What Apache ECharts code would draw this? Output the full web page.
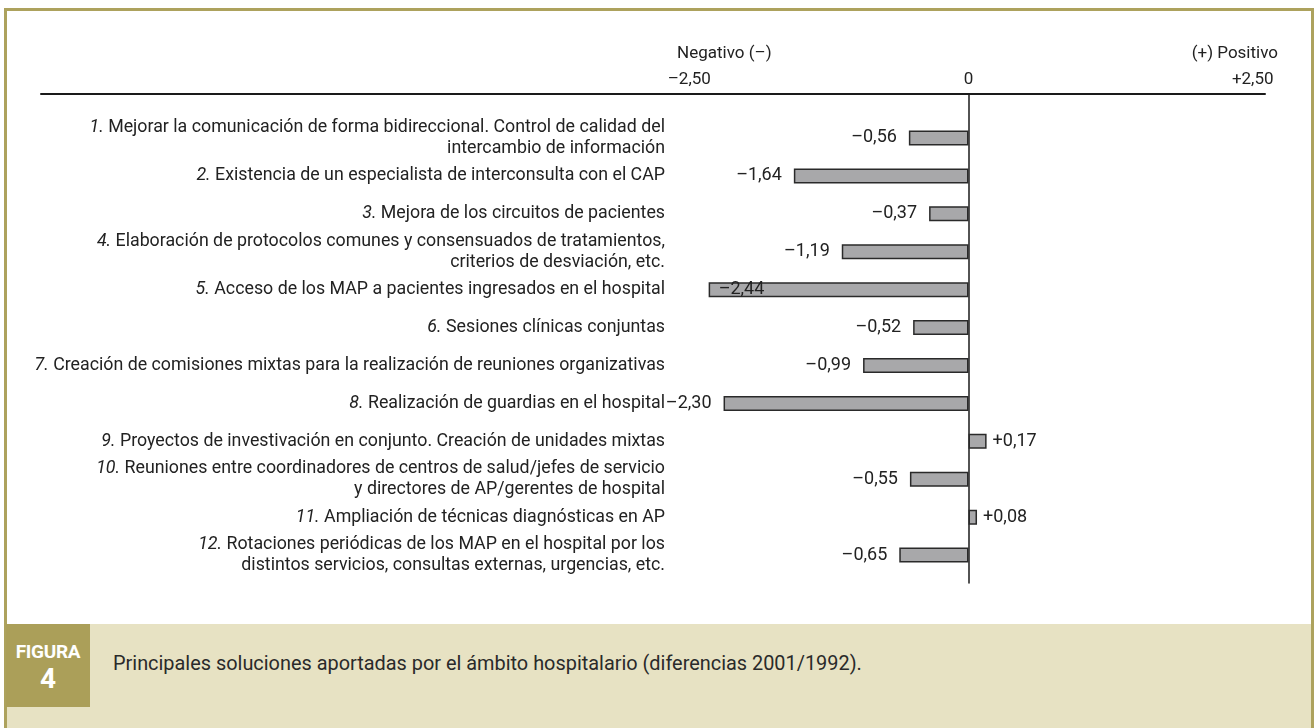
<!DOCTYPE html>
<html>
<head>
<meta charset="utf-8">
<script src="https://cdn.jsdelivr.net/npm/echarts@6/dist/echarts.min.js"></script>
<style>
  html, body { margin: 0; padding: 0; background: #ffffff; }
  #wrap { position: relative; width: 1314px; height: 728px; overflow: hidden; background: #ffffff; }
  .frame-top { position: absolute; left: 4px; top: 8px; width: 1310px; height: 3px; background: #ada25d; }
  .frame-left { position: absolute; left: 4px; top: 8px; width: 3px; height: 720px; background: #ada25d; }
  .frame-right { position: absolute; left: 1311px; top: 8px; width: 3px; height: 720px; background: #ada25d; }
  .band { position: absolute; left: 7px; top: 624px; width: 1304px; height: 104px; background: #e7e2c3; }
  .figbox { position: absolute; left: 6px; top: 624px; width: 84px; height: 83px; background: #ab9f59; color: #ffffff;
            font-family: "Roboto", sans-serif; font-weight: bold; text-align: center; }
  .figbox .t1 { position: absolute; left: 0; width: 84px; top: 17px; font-size: 19px; line-height: 22px; letter-spacing: -0.3px; }
  .figbox .t2 { position: absolute; left: 0; width: 84px; top: 40px; font-size: 28px; line-height: 30px; }
  .caption { position: absolute; left: 113px; top: 652px; font-family: "Roboto", sans-serif;
             font-size: 19.9px; line-height: 24px; color: #2a2a2a; white-space: nowrap; }
  #chart { position: absolute; left: 0; top: 0; width: 1314px; height: 728px; }
</style>
</head>
<body>
<div id="wrap">
  <div class="band"></div>
  <div class="frame-top"></div>
  <div class="frame-left"></div>
  <div class="frame-right"></div>
  <div class="figbox"><div class="t1">FIGURA</div><div class="t2">4</div></div>
  <div class="caption">Principales soluciones aportadas por el ámbito hospitalario (diferencias 2001/1992).</div>
  <div id="chart"></div>
</div>
<script>
// ---- data ----
const itemNumbers = ['1.', '2.', '3.', '4.', '5.', '6.', '7.', '8.', '9.', '10.', '11.', '12.'];
const itemTexts = [
  'Mejorar la comunicación de forma bidireccional. Control de calidad del\nintercambio de información',
  'Existencia de un especialista de interconsulta con el CAP',
  'Mejora de los circuitos de pacientes',
  'Elaboración de protocolos comunes y consensuados de tratamientos,\ncriterios de desviación, etc.',
  'Acceso de los MAP a pacientes ingresados en el hospital',
  'Sesiones clínicas conjuntas',
  'Creación de comisiones mixtas para la realización de reuniones organizativas',
  'Realización de guardias en el hospital',
  'Proyectos de investivación en conjunto. Creación de unidades mixtas',
  'Reuniones entre coordinadores de centros de salud/jefes de servicio\ny directores de AP/gerentes de hospital',
  'Ampliación de técnicas diagnósticas en AP',
  'Rotaciones periódicas de los MAP en el hospital por los\ndistintos servicios, consultas externas, urgencias, etc.'
];
const differences = [-0.56, -1.64, -0.37, -1.19, -2.44, -0.52, -0.99, -2.30, 0.17, -0.55, 0.08, -0.65];
const tickValues = [-2.5, 0, 2.5];
const tickLabels = ['–2,50', '0', '+2,50'];
const sideLabels = ['Negativo (–)', '(+) Positivo'];

// ---- layout helpers (pixels) ----
const FONT = '"Roboto", sans-serif';
const FS = 17.8;
const ZERO_X = 968.5, PX_PER_UNIT = 106.5;
const LINE_LEFT = 41, RIGHT_EDGE = 1265, BAR_GRID_LEFT = 700;
const X_MAX = (RIGHT_EDGE - ZERO_X) / PX_PER_UNIT;
const X_MIN_LINE = -(ZERO_X - LINE_LEFT) / PX_PER_UNIT;
const X_MIN_BARS = -(ZERO_X - BAR_GRID_LEFT) / PX_PER_UNIT;

const categories = itemTexts.map((t, i) => String(i));

function fmtValue(v) {
  const s = Math.abs(v).toFixed(2).replace('.', ',');
  return (v > 0 ? '+' : '–') + s;
}

const seriesData = differences.map((v) => {
  const d = { value: v };
  if (v > 0) d.label = { position: 'right', distance: 6 };
  else if (v <= -2.4) d.label = { position: 'insideLeft', distance: 10 };
  return d;
});

const chart = echarts.init(document.getElementById('chart'), null, { renderer: 'canvas' });
chart.setOption({
  backgroundColor: 'transparent',
  animation: false,
  textStyle: { fontFamily: FONT },
  title: [
    { text: sideLabels[0], left: 677, top: 45, padding: 0, textStyle: { fontFamily: FONT, fontSize: 17, fontWeight: 'normal', color: '#222' } },
    { text: sideLabels[1], right: 36, top: 45, padding: 0, textStyle: { fontFamily: FONT, fontSize: 17, fontWeight: 'normal', color: '#222' } }
  ],
  grid: [
    { left: BAR_GRID_LEFT, right: 1314 - RIGHT_EDGE, top: 119, bottom: 154, containLabel: false, outerBoundsMode: 'none' },
    { left: LINE_LEFT, right: 1314 - RIGHT_EDGE, top: 94, bottom: 145, containLabel: false, outerBoundsMode: 'none' }
  ],
  xAxis: [
    { type: 'value', gridIndex: 0, min: X_MIN_BARS, max: X_MAX, show: false },
    {
      type: 'value', gridIndex: 1, min: X_MIN_LINE, max: X_MAX, position: 'top',
      axisLine: { show: true, onZero: false, lineStyle: { color: '#1a1a1a', width: 2 } },
      axisTick: { show: false },
      splitLine: { show: false },
      axisLabel: {
        customValues: tickValues,
        margin: 6,
        fontFamily: FONT, fontSize: 17, color: '#222',
        formatter: function (v) {
          const i = tickValues.indexOf(v);
          const txt = i >= 0 ? tickLabels[i] : '';
          if (v < 0) return '{l|' + txt + '}';
          if (v > 0) return '{r|' + txt + '}';
          return txt;
        },
        rich: {
          l: { fontFamily: FONT, fontSize: 17, color: '#222', padding: [0, 26, 0, 0] },
          r: { fontFamily: FONT, fontSize: 17, color: '#222', padding: [0, 0, 0, 36] }
        }
      }
    }
  ],
  yAxis: [
    {
      type: 'category', gridIndex: 0, data: categories, inverse: true,
      axisLine: { show: false },
      axisTick: { show: false },
      splitLine: { show: false },
      axisLabel: {
        margin: BAR_GRID_LEFT - 665,
        fontFamily: FONT, fontSize: FS, color: '#222', lineHeight: 21, align: 'right',
        formatter: function (v) {
          const i = Number(v);
          const parts = itemTexts[i].split('\n');
          return '{n|' + itemNumbers[i] + '}{t| ' + parts[0] + '}' +
            (parts.length > 1 ? '\n{t|' + parts[1] + '}' : '');
        },
        rich: {
          n: { fontFamily: FONT, fontStyle: 'italic', fontSize: FS, color: '#222', lineHeight: 21 },
          t: { fontFamily: FONT, fontSize: FS, color: '#222', lineHeight: 21 }
        }
      }
    },
    {
      type: 'value', gridIndex: 1, min: 0, max: 1,
      axisLine: { show: true, onZero: true, lineStyle: { color: '#1a1a1a', width: 1.5 } },
      axisTick: { show: false }, axisLabel: { show: false }, splitLine: { show: false }
    }
  ],
  series: [
    {
      type: 'bar', xAxisIndex: 0, yAxisIndex: 0,
      data: seriesData,
      barWidth: 15,
      itemStyle: { color: '#a8a8aa', borderColor: '#2a2a2a', borderWidth: 1.5 },
      label: {
        show: true, position: 'left', distance: 12,
        fontFamily: FONT, fontSize: 18, color: '#222',
        formatter: function (p) { return fmtValue(p.value); }
      }
    }
  ]
});
</script>
</body>
</html>
